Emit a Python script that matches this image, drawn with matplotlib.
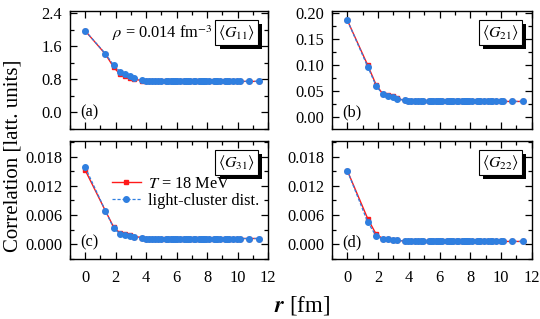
import numpy as np
import matplotlib
matplotlib.use('Agg')
import matplotlib.pyplot as plt
from matplotlib import patheffects
from matplotlib.ticker import MultipleLocator

plt.rcParams['font.family'] = 'serif'
plt.rcParams['font.serif'] = ['Liberation Serif', 'DejaVu Serif']
plt.rcParams['mathtext.fontset'] = 'stix'

# distances on the lattice (fm)
r = [0.00, 1.32, 1.87, 2.29, 2.64, 2.95, 3.23, 3.73, 3.96, 4.17, 4.38, 4.57,
     4.76, 4.94, 5.28, 5.44, 5.60, 5.75, 5.90, 6.05, 6.19, 6.47, 6.60, 6.73,
     6.86, 7.11, 7.23, 7.47, 7.58, 7.70, 7.81, 7.92, 8.14, 8.45, 8.55, 8.66,
     8.86, 9.14, 9.33, 9.43, 9.70, 9.97, 10.14, 10.72, 11.43]

# leading values, rest sits on the plateau
g11_T = [1.97, 1.41, 1.09, 0.92, 0.88, 0.84, 0.80, 0.77]
g11_lc = [1.97, 1.42, 1.14, 0.98, 0.93, 0.89, 0.84, 0.78]
g11_plateau = [0.75, 0.75]

g21_T = [0.186, 0.100, 0.062, 0.045, 0.043, 0.040, 0.036, 0.032]
g21_lc = [0.186, 0.097, 0.060, 0.044, 0.041, 0.038, 0.035, 0.032]
g21_plateau = [0.030, 0.030]

g31_T = [0.0152, 0.0069, 0.0035, 0.0023, 0.0022, 0.0019, 0.0016, 0.0014]
g31_lc = [0.0158, 0.0069, 0.0033, 0.0021, 0.0019, 0.0017, 0.0015, 0.0013]
g31_plateau = [0.0012, 0.0012]

g22_T = [0.0151, 0.0053, 0.0021, 0.0012, 0.0011, 0.0009, 0.0008, 0.0007]
g22_lc = [0.0151, 0.0046, 0.0017, 0.0011, 0.0010, 0.0009, 0.0008, 0.0007]
g22_plateau = [0.0006, 0.0006]


def full(head, plateau, which):
    tail = [plateau[which]] * (len(r) - len(head))
    return head + tail


panels = [
    (g11_T, g11_lc, g11_plateau, r'$\langle G_{11}\rangle$', '(a)',
     (-0.4, 2.45), 0.8, 0.4, '%.1f'),
    (g21_T, g21_lc, g21_plateau, r'$\langle G_{21}\rangle$', '(b)',
     (-0.023, 0.204), 0.05, 0.025, '%.2f'),
    (g31_T, g31_lc, g31_plateau, r'$\langle G_{31}\rangle$', '(c)',
     (-0.003, 0.0212), 0.006, 0.003, '%.3f'),
    (g22_T, g22_lc, g22_plateau, r'$\langle G_{22}\rangle$', '(d)',
     (-0.003, 0.0212), 0.006, 0.003, '%.3f'),
]

pos = [[0.1296, 0.5956, 0.367, 0.370],
       [0.6148, 0.5956, 0.370, 0.370],
       [0.1296, 0.1881, 0.367, 0.370],
       [0.6148, 0.1881, 0.370, 0.370]]

red = '#ff1a1a'
blue = '#2f7fe0'
fs = 11.8

fig = plt.figure(figsize=(5.4, 3.19), dpi=100)
axes = []
for i, (yT, ylc, plat, tag, lab, ylim, major, minor, fmt) in enumerate(panels):
    ax = fig.add_axes(pos[i])
    axes.append(ax)
    ax.plot(r, full(yT, plat, 0), color=red, marker='s', ms=3.5, lw=1.0,
            label=r'$T$ = 18 MeV', zorder=3)
    ax.plot(r, full(ylc, plat, 1), color=blue, marker='o', ms=4, lw=0.9,
            ls='--', dashes=(2.5, 1.5), label='light-cluster dist.', zorder=4)
    ax.set_xlim(-1, 12)
    ax.set_ylim(*ylim)
    ax.xaxis.set_major_locator(MultipleLocator(2))
    ax.xaxis.set_minor_locator(MultipleLocator(1))
    ax.yaxis.set_major_locator(MultipleLocator(major))
    ax.yaxis.set_minor_locator(MultipleLocator(minor))
    ax.yaxis.set_major_formatter(plt.FormatStrFormatter(fmt))
    ax.tick_params(which='both', direction='in', top=True, right=True,
                   labelsize=fs, width=0.9)
    ax.tick_params(which='major', length=5)
    ax.tick_params(which='minor', length=3)
    ax.tick_params(axis='x', pad=8)
    ax.tick_params(axis='y', pad=5.5)
    for s in ax.spines.values():
        s.set_linewidth(1.0)
    if i < 2:
        ax.tick_params(labelbottom=False)
    ax.text(0.05, 0.14, lab, transform=ax.transAxes, fontsize=fs,
            va='center', ha='left')
    t = ax.text(0.935, 0.82, tag, transform=ax.transAxes, fontsize=11.5,
                ha='right', va='center',
                bbox=dict(boxstyle='square,pad=0.18', fc='white', ec='k', lw=0.8))
    t.get_bbox_patch().set_path_effects([
        patheffects.SimplePatchShadow(offset=(3, -3), shadow_rgbFace='k', alpha=1.0),
        patheffects.Normal()])

axes[0].text(0.72, 0.81, r'$\rho$ = 0.014 fm$^{-3}$', transform=axes[0].transAxes,
             fontsize=fs, ha='right', va='center')

axes[2].legend(loc='upper left', bbox_to_anchor=(0.16, 0.79), frameon=False,
               fontsize=fs, handlelength=1.8, handletextpad=0.4,
               labelspacing=0.1, borderpad=0.1)

fig.text(0.024, 0.51, 'Correlation [latt. units]', rotation=90, fontsize=15,
         ha='center', va='center')
fig.text(0.56, 0.042, r'$\boldsymbol{r}$ [fm]', fontsize=16.5,
         ha='center', va='center')

fig.savefig('out.png', dpi=100)
